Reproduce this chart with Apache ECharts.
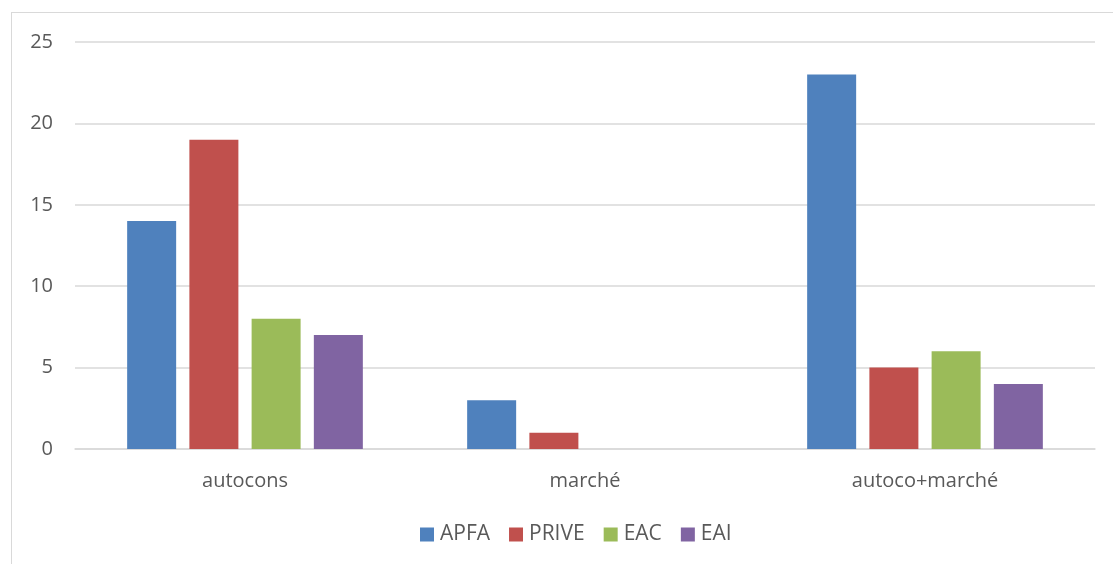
<!DOCTYPE html>
<html>
<head>
<meta charset="utf-8">
<script src="https://cdn.jsdelivr.net/npm/echarts@6/dist/echarts.min.js"></script>
<style>
  html, body { margin: 0; padding: 0; background: #fff; overflow: hidden; }
  #frame { position: absolute; left: 11px; top: 12px; width: 1120px; height: 570px; border: 1px solid #d9d9d9; box-sizing: border-box; }
  #chart { position: absolute; left: 0; top: 0; width: 1113px; height: 564px; }
</style>
</head>
<body>
<div id="frame"></div>
<div id="chart"></div>
<script>
const categories = ['autocons', 'marché', 'autoco+marché'];
const seriesNames = ['APFA', 'PRIVE', 'EAC', 'EAI'];
const apfa = [14, 3, 23];
const prive = [19, 1, 5];
const eac = [8, 0, 6];
const eai = [7, 0, 4];
const colors = ['#4F81BD', '#C0504D', '#9BBB59', '#8064A2'];

const font = '"Open Sans", "Noto Sans", sans-serif';
const values = [apfa, prive, eac, eai];

const chart = echarts.init(document.getElementById('chart'), null, { renderer: 'canvas' });
chart.setOption({
  animation: false,
  color: colors,
  textStyle: { fontFamily: font },
  grid: { left: 75, right: 18, top: 42, bottom: 115, containLabel: false },
  legend: {
    bottom: 14,
    left: 415,
    itemWidth: 14,
    itemHeight: 14,
    itemGap: 19,
    icon: 'rect',
    textStyle: { color: '#595959', fontSize: 21, fontFamily: font, padding: [0, 0, 0, 1] }
  },
  xAxis: {
    type: 'category',
    data: categories,
    axisLine: { lineStyle: { color: '#d9d9d9', width: 1.5 } },
    axisTick: { show: false },
    axisLabel: { color: '#595959', fontSize: 20, margin: 22, fontFamily: font }
  },
  yAxis: {
    type: 'value',
    min: 0,
    max: 25,
    interval: 5,
    axisLine: { show: false },
    axisTick: { show: false },
    splitLine: { lineStyle: { color: '#d9d9d9', width: 1.5 } },
    axisLabel: { color: '#595959', fontSize: 20, margin: 22, fontFamily: font }
  },
  series: seriesNames.map((name, i) => ({
    name: name,
    type: 'bar',
    data: values[i],
    barWidth: 49,
    barGap: '27%',
    itemStyle: { color: colors[i] }
  }))
});
</script>
</body>
</html>
